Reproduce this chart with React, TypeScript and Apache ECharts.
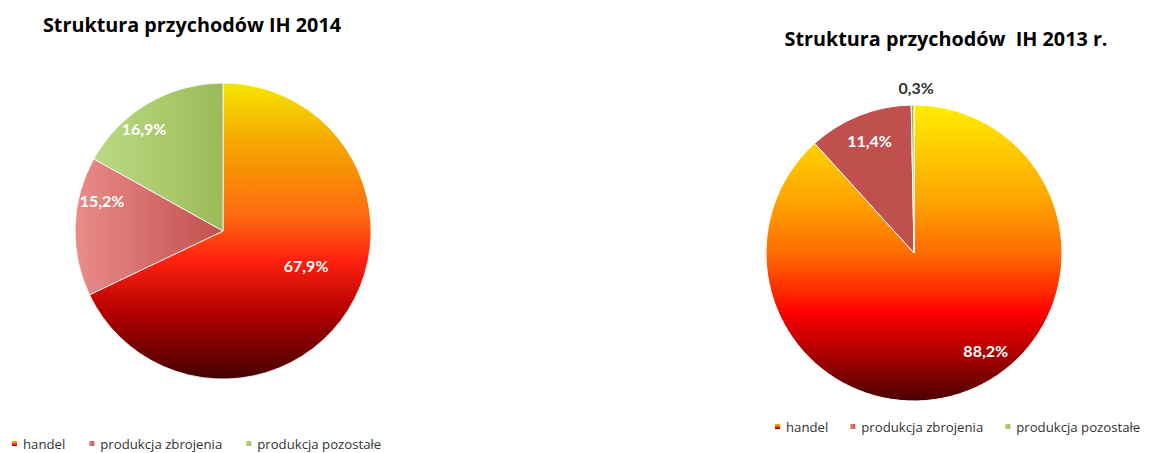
import React, { useEffect, useRef } from "react";
import * as echarts from "echarts";

const categories = ["handel", "produkcja zbrojenia", "produkcja pozostałe"];
const values2014 = [67.9, 15.2, 16.9];
const values2013 = [88.2, 11.4, 0.3];
const title2014 = "Struktura przychodów IH 2014";
const title2013 = "Struktura przychodów  IH 2013 r.";

const FONT = "Lato";
const TITLE_FONT = "Open Sans";
const LEGEND_FONT = "Open Sans";

const grad = (x2: number, y2: number, stops: [number, string][]) =>
  new echarts.graphic.LinearGradient(0, 0, x2, y2, stops.map(([offset, color]) => ({ offset, color })));

const colors2014 = [
  grad(0, 1, [
    [0, "#f5e600"],
    [0.2, "#f5a800"],
    [0.45, "#ff6a10"],
    [0.6, "#ff2010"],
    [0.78, "#b00000"],
    [1, "#450000"],
  ]),
  grad(1, 0, [
    [0, "#ea8c8a"],
    [1, "#c0504d"],
  ]),
  grad(1, 0, [
    [0, "#bcda82"],
    [1, "#9bbb59"],
  ]),
];

const colors2013 = [
  grad(0, 1, [
    [0, "#ffee00"],
    [0.32, "#ffa500"],
    [0.49, "#ff7000"],
    [0.62, "#ff3000"],
    [0.7, "#ff0000"],
    [0.86, "#a00000"],
    [1, "#4a0000"],
  ]),
  "#c0504d",
  "#9bbb59",
];

const labelColors2013 = ["#ffffff", "#ffffff", "#333333"];

// label nudges (style, not data)
const offsets2014: [number, number][] = [
  [18, -7],
  [-44, -28],
  [-40, -36],
];
const offsets2013: [number, number][] = [
  [44, 26],
  [-16, -41],
  [3, -89],
];

const fmt = (p: any) => `${Number(p.value).toFixed(1).replace(".", ",")}%`;

export default function App() {
  const ref = useRef<HTMLDivElement>(null);
  useEffect(() => {
    document.body.style.margin = "0";
    if (!ref.current) return;
    const chart = echarts.init(ref.current, undefined, { renderer: "svg" });
    const baseLabel = {
      show: true,
      position: "inside",
      formatter: fmt,
      color: "#ffffff",
      fontFamily: FONT,
      fontWeight: "bold",
      fontSize: 16,
    };
    const legendBase = {
      itemWidth: 7,
      itemHeight: 7,
      padding: 0,
      icon: "rect",
      orient: "horizontal",
      textStyle: { fontFamily: LEGEND_FONT, fontSize: 13.2, color: "#333" },
      data: categories,
    };
    const titleStyle = { fontFamily: TITLE_FONT, fontWeight: "bold", fontSize: 19.8, color: "#000" };
    chart.setOption({
      animation: false,
      title: [
        { text: title2014, left: 187, top: 9, textAlign: "center", textStyle: titleStyle },
        { text: title2013, left: 941, top: 23, textAlign: "center", textStyle: titleStyle },
      ],
      legend: [
        { ...legendBase, left: 10, top: 437, width: 600, itemGap: 22 },
        { ...legendBase, left: 773, top: 420, width: 600, itemGap: 20 },
      ],
      series: [
        {
          type: "pie",
          center: [223, 231],
          radius: 148,
          startAngle: 90,
          clockwise: true,
          avoidLabelOverlap: false,
          label: baseLabel,
          labelLine: { show: false },
          itemStyle: { borderColor: "#ffffff", borderWidth: 0.8 },
          emphasis: { disabled: true },
          labelLayout: (p: any) => ({ dx: offsets2014[p.dataIndex][0], dy: offsets2014[p.dataIndex][1] }),
          data: categories.map((name, i) => ({
            name,
            value: values2014[i],
            itemStyle: { color: colors2014[i] },
          })),
        },
        {
          type: "pie",
          center: [914, 253],
          radius: 148,
          startAngle: 90,
          clockwise: true,
          avoidLabelOverlap: false,
          label: baseLabel,
          labelLine: { show: false },
          itemStyle: { borderColor: "#ffffff", borderWidth: 1 },
          emphasis: { disabled: true },
          labelLayout: (p: any) => ({ dx: offsets2013[p.dataIndex][0], dy: offsets2013[p.dataIndex][1] }),
          data: categories.map((name, i) => ({
            name,
            value: values2013[i],
            itemStyle: { color: colors2013[i] },
            label: { color: labelColors2013[i] },
          })),
        },
      ],
    });
    return () => chart.dispose();
  }, []);
  return <div ref={ref} style={{ width: 1150, height: 453 }} />;
}
